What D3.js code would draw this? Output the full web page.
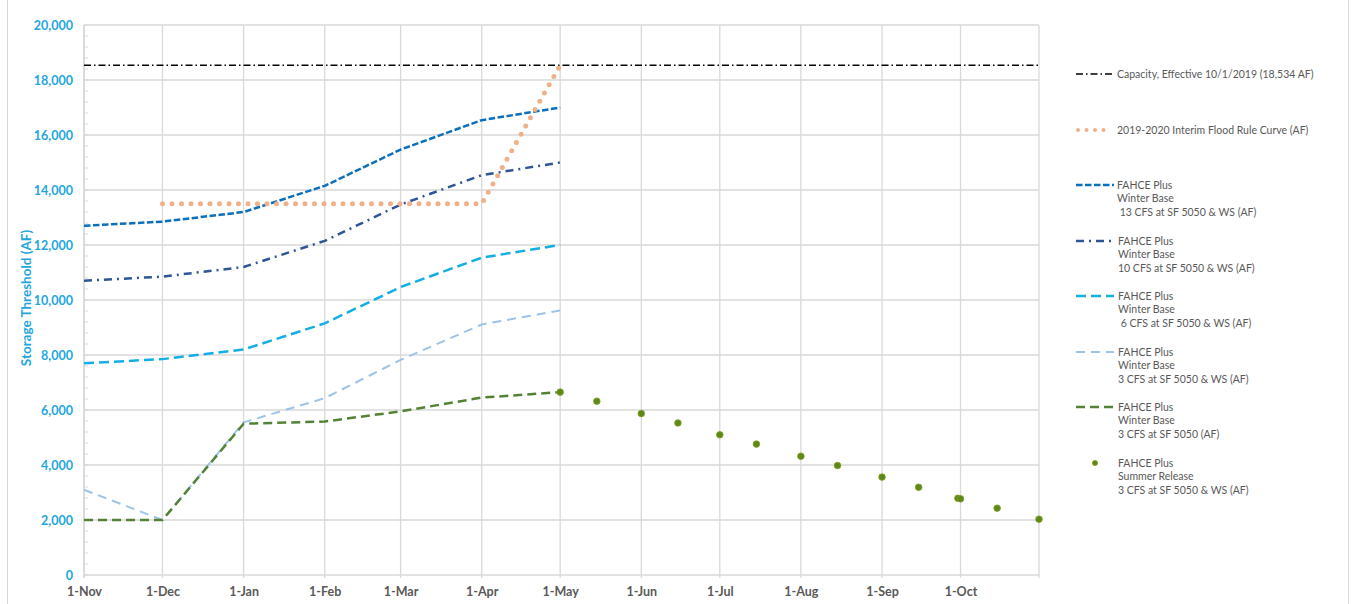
<!DOCTYPE html>
<html>
<head>
<meta charset="utf-8">
<script src="https://cdn.jsdelivr.net/npm/d3@7/dist/d3.min.js"></script>
<style>
  html, body { margin: 0; padding: 0; background: #fff; }
  svg { display: block; font-family: Lato, "Open Sans", sans-serif; }
  text { white-space: pre; }
</style>
</head>
<body>
<svg id="chart" width="1353" height="604"></svg>
<script>
// Month-start dates for the winter threshold curves (Nov 2019 - May 2020)
const winterDates = ["2019-11-01", "2019-12-01", "2020-01-01", "2020-02-01", "2020-03-01", "2020-04-01", "2020-05-01"];

// Storage thresholds (AF)
const base13 = [12700, 12850, 13200, 14150, 15470, 16540, 17000];
const base10 = [10700, 10850, 11200, 12150, 13470, 14540, 15000];
const base6 = [7700, 7850, 8200, 9150, 10470, 11540, 12000];
const base3ws = [3100, 2000, 5550, 6430, 7820, 9110, 9620];
const base3 = [2000, 2000, 5500, 5580, 5950, 6450, 6650];

// Interim flood rule curve
const floodDates = ["2019-12-01", "2020-04-01", "2020-05-01"];
const floodValues = [13500, 13500, 18534];

// Reservoir capacity
const capacityDates = ["2019-11-01", "2020-10-31"];
const capacityValues = [18534, 18534];

// Summer release points
const summerDates = ["2020-05-01", "2020-05-15", "2020-06-01", "2020-06-15", "2020-07-01", "2020-07-15",
  "2020-08-01", "2020-08-15", "2020-09-01", "2020-09-15", "2020-09-30", "2020-10-01", "2020-10-15", "2020-10-31"];
const summerValues = [6650, 6320, 5870, 5530, 5100, 4760, 4320, 3980, 3560, 3190, 2790, 2770, 2430, 2030];

// Axis ticks
const monthTicks = ["2019-11-01", "2019-12-01", "2020-01-01", "2020-02-01", "2020-03-01", "2020-04-01",
  "2020-05-01", "2020-06-01", "2020-07-01", "2020-08-01", "2020-09-01", "2020-10-01"];
const yTicks = [0, 2000, 4000, 6000, 8000, 10000, 12000, 14000, 16000, 18000, 20000];

const parse = d3.timeParse("%Y-%m-%d");
const svg = d3.select("#chart");

const x = d3.scaleTime()
  .domain([parse("2019-11-01"), parse("2020-10-31")])
  .range([84, 1039]);
const y = d3.scaleLinear().domain([0, 20000]).range([575, 25]);

// Chart area border
svg.append("rect")
  .attr("x", 7.5).attr("y", -10).attr("width", 1341).attr("height", 630)
  .attr("fill", "none").attr("stroke", "#d9d9d9").attr("stroke-width", 1);

// Gridlines
const grid = svg.append("g");
grid.selectAll("line.h").data(yTicks).join("line")
  .attr("x1", 84).attr("x2", 1039)
  .attr("y1", d => y(d)).attr("y2", d => y(d))
  .attr("stroke", "#d9d9d9").attr("stroke-width", 1.3);
grid.selectAll("line.v").data(monthTicks.slice(1).map(parse).concat([parse("2020-10-31")])).join("line")
  .attr("x1", d => x(d)).attr("x2", d => x(d))
  .attr("y1", 25).attr("y2", 578)
  .attr("stroke", "#d9d9d9").attr("stroke-width", 1.3);

// Y axis line with minor ticks
svg.append("line").attr("x1", 84).attr("x2", 84).attr("y1", 25).attr("y2", 578)
  .attr("stroke", "#c8c8c8").attr("stroke-width", 1.3);
svg.append("g").selectAll("line").data(d3.range(0, 20001, 400)).join("line")
  .attr("x1", 84).attr("x2", 88)
  .attr("y1", d => y(d)).attr("y2", d => y(d))
  .attr("stroke", "#d9d9d9").attr("stroke-width", 1);

// Y axis labels
const yAxis = d3.axisLeft(y).tickValues(yTicks).tickSize(0).tickPadding(11)
  .tickFormat(d3.format(","));
svg.append("g").attr("transform", "translate(84,0)").call(yAxis)
  .call(g => g.select(".domain").remove())
  .selectAll("text")
  .attr("fill", "#1ea6e0").attr("font-size", 12.5).attr("font-weight", 700)
  .attr("font-family", "Lato, sans-serif");

// X axis labels
const xAxis = d3.axisBottom(x).tickValues(monthTicks.map(parse)).tickSize(0).tickPadding(12)
  .tickFormat(d3.timeFormat("%-d-%b"));
svg.append("g").attr("transform", "translate(0,575)").call(xAxis)
  .call(g => g.select(".domain").remove())
  .selectAll("text")
  .attr("fill", "#595959").attr("font-size", 12.5).attr("font-weight", 700)
  .attr("font-family", "Lato, sans-serif");

// Y axis title
svg.append("text")
  .attr("transform", "translate(31,298) rotate(-90)")
  .attr("text-anchor", "middle")
  .attr("fill", "#1ea6e0").attr("font-size", 13.5).attr("font-weight", 700)
  .text("Storage Threshold (AF)");

// Series definitions
const series = [
  { name: "capacity", dates: capacityDates, values: capacityValues, color: "#000000", width: 1.4, dash: "7,3,1.5,3", cap: "butt" },
  { name: "flood", dates: floodDates, values: floodValues, color: "#efb18a", width: 5, dash: "0,9.5", cap: "round" },
  { name: "b13", dates: winterDates, values: base13, color: "#0a6fbd", width: 2.5, dash: "6.5,2.5", cap: "butt" },
  { name: "b10", dates: winterDates, values: base10, color: "#2f5597", width: 2.5, dash: "8,5,2,5", cap: "butt" },
  { name: "b6", dates: winterDates, values: base6, color: "#14aee6", width: 2.5, dash: "10,5", cap: "butt" },
  { name: "b3ws", dates: winterDates, values: base3ws, color: "#9dc3e6", width: 2, dash: "9,6", cap: "butt" },
  { name: "b3", dates: winterDates, values: base3, color: "#548235", width: 2.5, dash: "9,5", cap: "butt" }
];

const line = d3.line().x(d => x(d.date)).y(d => y(d.value));

// Draw order: capacity, then winter lines, flood curve on top of lower ones
const order = ["capacity", "b3ws", "b3", "b6", "b10", "b13", "flood"];
order.forEach(n => {
  const s = series.find(e => e.name === n);
  const pts = s.dates.map((d, i) => ({ date: parse(d), value: s.values[i] }));
  svg.append("path")
    .datum(pts)
    .attr("d", line)
    .attr("fill", "none")
    .attr("stroke", s.color)
    .attr("stroke-width", s.width)
    .attr("stroke-dasharray", s.dash)
    .attr("stroke-linecap", s.cap)
    .attr("stroke-linejoin", "round");
});

// Summer release markers
svg.append("g").selectAll("circle")
  .data(summerDates.map((d, i) => ({ date: parse(d), value: summerValues[i] })))
  .join("circle")
  .attr("cx", d => x(d.date)).attr("cy", d => y(d.value))
  .attr("r", 3.3)
  .attr("fill", "#5b8a1c").attr("stroke", "#8c9b1e").attr("stroke-width", 0.8);

// Legend
const legendItems = [
  { key: "capacity", y: 74, lines: ["Capacity, Effective 10/1/2019 (18,534 AF)"] },
  { key: "flood", y: 130, lines: ["2019-2020 Interim Flood Rule Curve (AF)"] },
  { key: "b13", y: 185, lines: ["FAHCE Plus", "Winter Base", " 13 CFS at SF 5050 & WS (AF)"] },
  { key: "b10", y: 241, lines: ["FAHCE Plus", "Winter Base", "10 CFS at SF 5050 & WS (AF)"] },
  { key: "b6", y: 296, lines: ["FAHCE Plus", "Winter Base", " 6 CFS at SF 5050 & WS (AF)"] },
  { key: "b3ws", y: 352, lines: ["FAHCE Plus", "Winter Base", "3 CFS at SF 5050 & WS (AF)"] },
  { key: "b3", y: 407, lines: ["FAHCE Plus", "Winter Base", "3 CFS at SF 5050 (AF)"] },
  { key: "summer", y: 463, lines: ["FAHCE Plus", "Summer Release", "3 CFS at SF 5050 & WS (AF)"] }
];

const legend = svg.append("g");
legendItems.forEach(item => {
  const g = legend.append("g");
  if (item.key === "summer") {
    g.append("circle").attr("cx", 1095).attr("cy", item.y).attr("r", 2.6)
      .attr("fill", "#5b8a1c").attr("stroke", "#8c9b1e").attr("stroke-width", 0.8);
  } else {
    const s = series.find(e => e.name === item.key);
    const x1 = item.key === "flood" ? 1078 : 1076;
    g.append("line")
      .attr("x1", x1).attr("x2", item.key === "flood" ? 1112 : 1114)
      .attr("y1", item.y).attr("y2", item.y)
      .attr("stroke", s.color)
      .attr("stroke-width", item.key === "flood" ? 4 : s.width)
      .attr("stroke-dasharray", item.key === "flood" ? "0,8.5" : s.dash)
      .attr("stroke-linecap", s.cap);
  }
  const tx = item.key === "capacity" || item.key === "flood" || item.key === "b13" ? 1117 : 1118;
  item.lines.forEach((t, i) => {
    g.append("text")
      .attr("x", tx).attr("y", item.y + i * 13.8)
      .attr("dy", "0.35em")
      .attr("fill", "#595959").attr("font-size", 10.5)
      .attr("font-family", "Lato, sans-serif")
      .text(t);
  });
});
</script>
</body>
</html>
